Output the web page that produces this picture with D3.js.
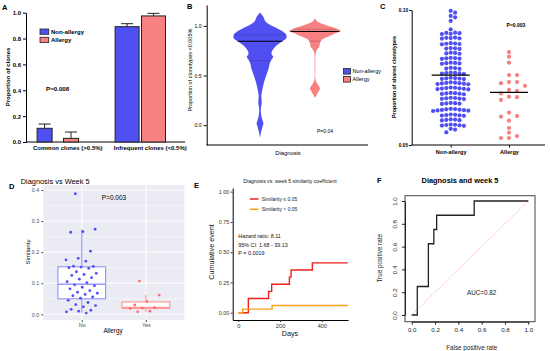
<!DOCTYPE html>
<html><head><meta charset="utf-8">
<script src="https://cdn.jsdelivr.net/npm/d3@7"></script>
<style>body{margin:0;background:#fff}svg{display:block}text{font-family:"Liberation Sans",Arial,sans-serif}</style>
</head><body><svg id="c" width="550" height="351"></svg>
<script>
// ---------------- Panel A data ----------------
const aGroups = ["Common clones (>0.5%)", "Infrequent clones (<0.5%)"];
const aSeries = ["Non-allergy", "Allergy"];
const aNonAllergy = [0.106, 0.892];
const aAllergy = [0.028, 0.975];
const aNonAllergyErr = [0.033, 0.023];
const aAllergyErr = [0.049, 0.020];
const aYTicks = [0, 0.2, 0.4, 0.6, 0.8, 1.0];

// ---------------- Panel B data ----------------
const bGroups = ["Non-allergy", "Allergy"];
const bNonAllergyY = [1.135, 1.094, 1.043, 1.01, 0.975, 0.94, 0.909, 0.875, 0.842, 0.808, 0.775, 0.741, 0.715, 0.69, 0.66, 0.63, 0.563, 0.496, 0.43, 0.36, 0.295, 0.228, 0.16, 0.094, 0.044, 0.02, -0.02, -0.07, -0.13];
const bNonAllergyDensity = [0, 0.12, 0.21, 0.38, 0.64, 0.88, 1.0, 1.0, 0.83, 0.65, 0.53, 0.45, 0.44, 0.5, 0.44, 0.38, 0.32, 0.23, 0.15, 0.09, 0.05, 0.065, 0.03, 0.05, 0.1, 0.13, 0.09, 0.04, 0];
const bAllergyY = [1.08, 1.043, 1.01, 0.975, 0.949, 0.926, 0.892, 0.86, 0.825, 0.79, 0.765, 0.725, 0.59, 0.46, 0.43, 0.4, 0.37, 0.34, 0.295, 0.27];
const bAllergyDensity = [0, 0.09, 0.38, 0.77, 0.98, 0.77, 0.51, 0.26, 0.19, 0.165, 0.09, 0.027, 0.015, 0.02, 0.06, 0.135, 0.19, 0.135, 0.04, 0];
const bMedians = [0.845, 0.943];
const bQuartiles = [[0.65, 0.909], [0.845, 0.965]];
const bYTicks = [0, 0.5, 1.0];

// ---------------- Panel C data ----------------
const cGroups = ["Non-allergy", "Allergy"];
const cNonAllergy = [0.0997, 0.0990, 0.0978, 0.0973, 0.0960, 0.0928,
  0.0916, 0.0914, 0.0912, 0.0915, 0.0911,
  0.0898, 0.0895, 0.0897, 0.0894, 0.0896,
  0.0877, 0.0874, 0.0876, 0.0873, 0.0875,
  0.0859, 0.0857, 0.0858, 0.0856,
  0.0841, 0.0839, 0.0842, 0.0838,
  0.0822, 0.0820, 0.0823, 0.0819, 0.0821,
  0.0804, 0.0802, 0.0805, 0.0801, 0.0803,
  0.0785, 0.0783, 0.0786, 0.0782,
  0.0767, 0.0765, 0.0768, 0.0764, 0.0766, 0.0763,
  0.0748, 0.0746, 0.0749, 0.0745, 0.0747, 0.0744,
  0.0730, 0.0728, 0.0731, 0.0727, 0.0729, 0.0726, 0.0732, 0.0725,
  0.0711, 0.0709, 0.0712, 0.0708, 0.0710, 0.0707, 0.0713, 0.0706,
  0.0692, 0.0690, 0.0693, 0.0689, 0.0691, 0.0688,
  0.0674, 0.0672, 0.0675, 0.0671, 0.0673, 0.0670,
  0.0655, 0.0653, 0.0656, 0.0652, 0.0654,
  0.0631, 0.0629, 0.0632, 0.0628, 0.0630, 0.0627, 0.0633, 0.0626, 0.0634,
  0.0612, 0.0610, 0.0613, 0.0609, 0.0611, 0.0608,
  0.0594, 0.0592, 0.0595, 0.0591, 0.0593,
  0.0575, 0.0573, 0.0576, 0.0572, 0.0574, 0.0571,
  0.0560, 0.0557, 0.0547];
const cAllergy = [0.0844, 0.0827, 0.0805, 0.0759, 0.0759, 0.0729, 0.0733, 0.0733, 0.0719, 0.0704, 0.0701, 0.0691, 0.0679, 0.0677, 0.0667, 0.0620, 0.0605, 0.0607, 0.0590, 0.0563, 0.0546, 0.0526, 0.0533, 0.0526];
const cCenterLines = [0.0759, 0.0695];
const cYTicks = [0.05, 0.10];

// ---------------- Panel D data ----------------
const dGroups = ["No", "Yes"];
const dNo = [0.388, 0.274, 0.266, 0.264, 0.203, 0.180, 0.175, 0.171, 0.155, 0.154,
  0.152, 0.150, 0.148, 0.137, 0.132, 0.128, 0.125, 0.118, 0.113, 0.105, 0.102,
  0.095, 0.092, 0.087, 0.082, 0.076, 0.071, 0.068, 0.064, 0.060, 0.056, 0.052,
  0.045, 0.038, 0.031, 0.028, 0.024, 0.016, 0.013, 0.010, 0.008, 0.004];
const dYes = [0.107, 0.062, 0.041, 0.030, 0.021, 0.020, 0.019, 0.010, 0.008];
const dBoxLow = [0.004, 0.008];
const dBoxQ1 = [0.050, 0.019];
const dBoxMed = [0.097, 0.022];
const dBoxQ3 = [0.153, 0.040];
const dBoxHigh = [0.274, 0.062];
const dYTicks = [0, 0.1, 0.2, 0.3, 0.4];
const dYMinor = [0.05, 0.15, 0.25, 0.35];

// ---------------- Panel E data ----------------
const eRedDays = [0, 48, 145, 160, 245, 253, 355, 525];
const eRedCum = [0, 0.118, 0.176, 0.235, 0.294, 0.353, 0.412, 0.412];
const eOrangeDays = [0, 21, 162, 525];
const eOrangeCum = [0, 0.03, 0.06, 0.06];
const eYTicks = [0, 0.25, 0.5, 0.75, 1.0];
const eXTicks = [0, 200, 400];
const eLegend = ["Similarity \u2264 0.05", "Similarity > 0.05"];
const eStats = ["Hazard ratio: 8.11", "95% CI: 1.68 - 39.13", "P = 0.0019"];

// ---------------- Panel F data ----------------
const fFPR = [0, 0.048, 0.048, 0.143, 0.143, 0.19, 0.19, 0.214, 0.214, 0.536, 0.536, 1.0];
const fTPR = [0, 0, 0.25, 0.25, 0.625, 0.625, 0.75, 0.75, 0.875, 0.875, 1.0, 1.0];
const fTicks = [0, 0.2, 0.4, 0.6, 0.8, 1.0];

// ================= drawing =================
const FONT = '"Liberation Sans", Arial, sans-serif';
const svg = d3.select("#c");
svg.append("rect").attr("width", 550).attr("height", 351).attr("fill", "#fff");

function txt(g, x, y, s, o = {}) {
  const t = g.append("text").attr("x", x).attr("y", y).text(s)
    .attr("font-size", o.size || 6).attr("fill", o.fill || "#000")
    .attr("font-weight", o.bold ? "bold" : "normal")
    .attr("text-anchor", o.anchor || "start").style("font-family", FONT);
  if (o.rotate) t.attr("transform", `rotate(${o.rotate},${x},${y})`);
  if (o.len) t.attr("textLength", o.len).attr("lengthAdjust", "spacingAndGlyphs");
  return t;
}
function styleAxis(g, size, color, bold) {
  g.attr("font-family", null).attr("font-size", null);
  g.selectAll("text").attr("font-size", size).attr("font-weight", bold ? "bold" : "normal")
    .attr("fill", color).style("font-family", FONT);
  g.selectAll("line").attr("stroke", color);
  g.select(".domain").attr("stroke", color);
}
const BLUE = "#5050f2", PINK = "#f78080";

// panel letters
[["A", 2, 10], ["B", 187, 9], ["C", 380, 9], ["D", 9, 189], ["E", 194, 188], ["F", 377, 183]]
  .forEach(([l, x, y]) => txt(svg, x, y, l, { size: 7.5, bold: true }));

// ---------- A ----------
{
  const g = svg.append("g");
  const y = d3.scaleLinear().domain([0, 1]).range([142, 12.7]);
  const x = d3.scalePoint().domain(aGroups).range([57.8, 140.3]);
  const s = d3.scalePoint().domain(aSeries).range([-13.2, 13.2]);
  const barW = [15, 24];
  const ax = g.append("g").attr("transform", "translate(26,0)")
    .call(d3.axisLeft(y).tickValues(aYTicks).tickFormat(d3.format(".1f")).tickSize(3).tickSizeOuter(0).tickPadding(2));
  styleAxis(ax, 6, "#000", true);
  g.append("line").attr("x1", 26).attr("x2", 185).attr("y1", y(0)).attr("y2", y(0)).attr("stroke", "#000");
  const series = [[aNonAllergy, aNonAllergyErr, BLUE], [aAllergy, aAllergyErr, PINK]];
  series.forEach(([vals, errs, col], si) => {
    aGroups.forEach((grp, gi) => {
      const cx = x(grp) + s(aSeries[si]);
      const w = barW[gi];
      g.append("line").attr("x1", cx).attr("x2", cx).attr("y1", y(vals[gi])).attr("y2", y(vals[gi] + errs[gi])).attr("stroke", "#222").attr("stroke-width", 1);
      g.append("line").attr("x1", cx - 6).attr("x2", cx + 6).attr("y1", y(vals[gi] + errs[gi])).attr("y2", y(vals[gi] + errs[gi])).attr("stroke", "#222").attr("stroke-width", 1);
      g.append("rect").attr("x", cx - w / 2).attr("y", y(vals[gi])).attr("width", w).attr("height", y(0) - y(vals[gi]))
        .attr("fill", col).attr("stroke", "#222").attr("stroke-width", 1);
    });
  });
  aGroups.forEach(grp => txt(g, x(grp) + 10, 150, grp, { size: 6, bold: true, anchor: "middle" }));
  txt(g, 10, 77, "Proportion of clones", { size: 6, bold: true, anchor: "middle", rotate: -90 });
  [[aSeries[0], BLUE, 29], [aSeries[1], PINK, 37.3]].forEach(([n, c, yy]) => {
    g.append("rect").attr("x", 40).attr("y", yy).attr("width", 8.7).attr("height", 5.3).attr("fill", c).attr("stroke", "#222").attr("stroke-width", 0.8);
    txt(g, 51, yy + 4.8, n, { size: 6, bold: true });
  });
  txt(g, 46, 91, "P=0.008", { size: 6.2, bold: true });
}

// ---------- B ----------
{
  const g = svg.append("g");
  const y = d3.scaleLinear().domain([-0.2, 1.21]).range([145, 5]);
  const x = d3.scalePoint().domain(bGroups).range([260, 315]);
  const w = d3.scaleLinear().domain([0, 1]).range([0, 26.3]);
  const ax = g.append("g").attr("transform", "translate(206.7,0)")
    .call(d3.axisLeft(y).tickValues(bYTicks).tickFormat(d3.format(".1f")).tickSize(3).tickSizeOuter(0).tickPadding(2));
  styleAxis(ax, 5.2, "#000", false);
  g.append("line").attr("x1", 206.7).attr("x2", 368).attr("y1", 145).attr("y2", 145).attr("stroke", "#000");
  const profiles = [[bNonAllergyY, bNonAllergyDensity, BLUE], [bAllergyY, bAllergyDensity, PINK]];
  profiles.forEach(([ys, ds, col], i) => {
    const cx = x(bGroups[i]);
    const pts = ys.map((v, k) => [v, ds[k]]);
    const area = d3.area().y(d => y(d[0])).x0(d => cx - w(d[1])).x1(d => cx + w(d[1])).curve(d3.curveCatmullRom.alpha(0.5));
    g.append("path").attr("d", area(pts)).attr("fill", col);
    const half = v => {
      for (let k = 0; k < ys.length - 1; k++) {
        if ((ys[k] - v) * (ys[k + 1] - v) <= 0) {
          const t = (v - ys[k]) / (ys[k + 1] - ys[k]);
          return w(ds[k] + t * (ds[k + 1] - ds[k]));
        }
      }
      return 0;
    };
    bQuartiles[i].forEach(q => g.append("line").attr("x1", cx - half(q)).attr("x2", cx + half(q)).attr("y1", y(q)).attr("y2", y(q)).attr("stroke", "rgba(0,0,0,0.22)").attr("stroke-width", 0.8));
    const m = bMedians[i];
    g.append("line").attr("x1", cx - half(m)).attr("x2", cx + half(m)).attr("y1", y(m)).attr("y2", y(m)).attr("stroke", "#000").attr("stroke-width", 1.2);
  });
  txt(g, 192, 70, "Proportion of clonotypes <0.005%", { size: 5.5, anchor: "middle", rotate: -90 });
  txt(g, 288, 155, "Diagnosis", { size: 5.8, anchor: "middle" });
  txt(g, 317, 133, "P=0.04", { size: 5, });
  [[bGroups[0], BLUE, 68.5], [bGroups[1], PINK, 76.5]].forEach(([n, c, yy]) => {
    g.append("rect").attr("x", 343.5).attr("y", yy).attr("width", 7).attr("height", 5.6).attr("fill", c).attr("stroke", "#222").attr("stroke-width", 0.8);
    txt(g, 352.5, yy + 4.6, n, { size: 5.6 });
  });
}

// ---------- C ----------
{
  const g = svg.append("g");
  const y = d3.scaleLinear().domain([0.05, 0.10]).range([145, 10]);
  const x = d3.scalePoint().domain(cGroups).range([450.7, 509]);
  const ax = g.append("g").attr("transform", "translate(411.7,0)")
    .call(d3.axisLeft(y).tickValues(cYTicks).tickFormat(d3.format(".2f")).tickSize(2.5).tickSizeOuter(0).tickPadding(1));
  styleAxis(ax, 4.8, "#000", true);
  const axb = g.append("g").attr("transform", "translate(0,145)")
    .call(d3.axisBottom(x).tickSize(2.5).tickSizeOuter(0).tickPadding(2.5));
  axb.select(".domain").remove();
  styleAxis(axb, 5.6, "#000", true);
  g.append("line").attr("x1", 411.7).attr("x2", 545).attr("y1", 145).attr("y2", 145).attr("stroke", "#000");
  const swarm = (vals, cx, step, dia) => {
    const ys = vals.map(v => y(v)).sort((a, b) => a - b);
    const placed = [];
    ys.forEach(py => {
      for (let k = 0; k < 40; k++) {
        const off = (k % 2 ? 1 : -1) * Math.ceil(k / 2) * step;
        const px = cx + off;
        if (placed.every(p => (p[0] - px) ** 2 + (p[1] - py) ** 2 >= dia * dia)) { placed.push([px, py]); break; }
      }
    });
    return placed;
  };
  [[cNonAllergy, BLUE, 4.4], [cAllergy, PINK, 8]].forEach(([vals, col, step], i) => {
    const pts = swarm(vals, x(cGroups[i]), step, 4.2);
    g.selectAll(null).data(pts).enter().append("circle").attr("cx", d => d[0]).attr("cy", d => d[1]).attr("r", 2.1).attr("fill", col);
    const cy = y(cCenterLines[i]);
    g.append("line").attr("x1", x(cGroups[i]) - 19).attr("x2", x(cGroups[i]) + 19).attr("y1", cy).attr("y2", cy).attr("stroke", "#000").attr("stroke-width", 1.3);
  });
  txt(g, 395.5, 77, "Proportion of shared clonotypes", { size: 5.3, bold: true, anchor: "middle", rotate: -90 });
  txt(g, 516, 27, "P=0.003", { size: 5, bold: true, anchor: "middle" });
}

// ---------- D ----------
{
  const g = svg.append("g");
  const L = 43.3, R = 184.3, T = 185, B = 320;
  const y = d3.scaleLinear().domain([0, 0.4]).range([314.3, 190]);
  const x = d3.scalePoint().domain(dGroups).range([L, R]).padding(0.6);
  g.append("rect").attr("x", L).attr("y", T).attr("width", R - L).attr("height", B - T).attr("fill", "#ebebf3");
  dYMinor.forEach(v => g.append("line").attr("x1", L).attr("x2", R).attr("y1", y(v)).attr("y2", y(v)).attr("stroke", "#fff").attr("stroke-width", 0.5));
  dYTicks.forEach(v => g.append("line").attr("x1", L).attr("x2", R).attr("y1", y(v)).attr("y2", y(v)).attr("stroke", "#fff").attr("stroke-width", 1));
  dGroups.forEach(gr => g.append("line").attr("x1", x(gr)).attr("x2", x(gr)).attr("y1", T).attr("y2", B).attr("stroke", "#fff").attr("stroke-width", 1));
  const ax = g.append("g").attr("transform", `translate(${L},0)`)
    .call(d3.axisLeft(y).tickValues(dYTicks).tickFormat(d3.format(".1f")).tickSize(2).tickSizeOuter(0).tickPadding(2));
  ax.select(".domain").remove();
  styleAxis(ax, 5.4, "#4d4d4d", false);
  const axb = g.append("g").attr("transform", `translate(0,${B})`)
    .call(d3.axisBottom(x).tickSize(2).tickSizeOuter(0).tickPadding(1.5));
  axb.select(".domain").remove();
  styleAxis(axb, 5.4, "#4d4d4d", false);
  const boxCols = ["#9a9aff", "#ff9a9a"];
  const bw = 47.7;
  dGroups.forEach((gr, i) => {
    const cx = x(gr), c = boxCols[i];
    g.append("line").attr("x1", cx).attr("x2", cx).attr("y1", y(dBoxQ3[i])).attr("y2", y(dBoxHigh[i])).attr("stroke", c).attr("stroke-width", 1.2);
    g.append("line").attr("x1", cx).attr("x2", cx).attr("y1", y(dBoxQ1[i])).attr("y2", y(dBoxLow[i])).attr("stroke", c).attr("stroke-width", 1.2);
    g.append("rect").attr("x", cx - bw / 2).attr("y", y(dBoxQ3[i])).attr("width", bw).attr("height", y(dBoxQ1[i]) - y(dBoxQ3[i]))
      .attr("fill", "#fff").attr("stroke", c).attr("stroke-width", 1.2);
    g.append("line").attr("x1", cx - bw / 2).attr("x2", cx + bw / 2).attr("y1", y(dBoxMed[i])).attr("y2", y(dBoxMed[i])).attr("stroke", c).attr("stroke-width", 1.5);
  });
  [[dNo, "#4d4dff"], [dYes, "#ff6b6b"]].forEach(([vals, col], i) => {
    const cx = x(dGroups[i]);
    g.selectAll(null).data(vals).enter().append("circle")
      .attr("cx", (d, k) => cx + (((k * 0.618034 + 0.3) % 1) - 0.5) * 32)
      .attr("cy", d => y(d)).attr("r", 1.4).attr("fill", col);
  });
  txt(g, 20.7, 183.5, "Diagnosis vs Week 5", { size: 7.4 });
  txt(g, 114, 200, "P=0.003", { size: 6.5, anchor: "middle" });
  txt(g, 29.5, 252, "Similarity", { size: 6.2, anchor: "middle", rotate: -90 });
  txt(g, 113, 333, "Allergy", { size: 6.3, anchor: "middle" });
}

// ---------- E ----------
{
  const g = svg.append("g");
  const x = d3.scaleLinear().domain([-27, 526]).range([232.7, 348]);
  const y = d3.scaleLinear().domain([-0.06, 1.03]).range([320, 188]);
  const ax = g.append("g").attr("transform", "translate(232.7,0)")
    .call(d3.axisLeft(y).tickValues(eYTicks).tickFormat(d3.format(".2f")).tickSize(2).tickSizeOuter(0).tickPadding(1.5));
  styleAxis(ax, 5.4, "#333", false);
  ax.select(".domain").attr("stroke", "#000");
  const axb = g.append("g").attr("transform", "translate(0,320)")
    .call(d3.axisBottom(x).tickValues(eXTicks).tickFormat(d3.format("d")).tickSize(2).tickSizeOuter(0).tickPadding(1.5));
  styleAxis(axb, 5.8, "#333", false);
  axb.select(".domain").attr("stroke", "#000");
  const line = d3.line().x(d => x(d[0])).y(d => y(d[1])).curve(d3.curveStepAfter);
  g.append("path").attr("d", line(eRedDays.map((d, i) => [d, eRedCum[i]]))).attr("fill", "none").attr("stroke", "#f01e1e").attr("stroke-width", 1.4);
  g.append("path").attr("d", line(eOrangeDays.map((d, i) => [d, eOrangeCum[i]]))).attr("fill", "none").attr("stroke", "#f5a21a").attr("stroke-width", 1.4);
  [["#f01e1e", 199], ["#f5a21a", 209.3]].forEach(([c, yy], i) => {
    g.append("line").attr("x1", 250).attr("x2", 258.5).attr("y1", yy).attr("y2", yy).attr("stroke", c).attr("stroke-width", 1.5);
    txt(g, 261.7, yy + 1.8, eLegend[i], { size: 5, fill: "#222" });
  });
  eStats.forEach((s, i) => txt(g, 238.3, 238.3 + i * 8.3, s, { size: 5.4, fill: "#111" }));
  txt(g, 290, 183, "Diagnosis vs. week 5 similarity coefficient", { size: 5.1, anchor: "middle", fill: "#111" });
  txt(g, 290, 335.5, "Days", { size: 7.2, anchor: "middle", fill: "#111" });
  txt(g, 213.5, 252, "Cumulative event", { size: 7.2, anchor: "middle", rotate: -90, fill: "#111" });
}

// ---------- F ----------
{
  const g = svg.append("g");
  const x = d3.scaleLinear().domain([0, 1]).range([411.7, 528.3]);
  const y = d3.scaleLinear().domain([0, 1]).range([315, 201]);
  g.append("rect").attr("x", 405).attr("y", 195.7).attr("width", 130).attr("height", 126).attr("fill", "none").attr("stroke", "#444").attr("stroke-width", 1);
  const axb = g.append("g").attr("transform", "translate(0,321.7)")
    .call(d3.axisBottom(x).tickValues(fTicks).tickFormat(d3.format(".1f")).tickSize(3).tickSizeOuter(0).tickPadding(3));
  styleAxis(axb, 6.2, "#222", false);
  const axl = g.append("g").attr("transform", "translate(405,0)")
    .call(d3.axisLeft(y).tickValues(fTicks).tickFormat(d3.format(".1f")).tickSize(3).tickSizeOuter(0).tickPadding(3));
  styleAxis(axl, 6.2, "#222", false);
  axl.selectAll(".tick text").attr("text-anchor", "middle").attr("x", 0).attr("dy", 0)
    .attr("transform", "translate(-8.5,0) rotate(-90)");
  g.append("line").attr("x1", x(0)).attr("y1", y(0)).attr("x2", x(1)).attr("y2", y(1))
    .attr("stroke", "#ff7a9a").attr("stroke-width", 0.8).attr("stroke-dasharray", "1,1.5");
  const line = d3.line().x(d => x(d[0])).y(d => y(d[1]));
  g.append("path").attr("d", line(fFPR.map((v, i) => [v, fTPR[i]]))).attr("fill", "none").attr("stroke", "#222").attr("stroke-width", 1.3);
  txt(g, 460, 183, "Diagnosis and week 5", { size: 7.4, bold: true, anchor: "middle" });
  txt(g, 471.7, 349.5, "False positive rate", { size: 6.3, anchor: "middle", fill: "#222" });
  txt(g, 382.5, 258.3, "True positive rate", { size: 6.3, anchor: "middle", rotate: -90, fill: "#222" });
  txt(g, 481.7, 294.5, "AUC=0.82", { size: 6.3, anchor: "middle", fill: "#222" });
}
</script></body></html>
